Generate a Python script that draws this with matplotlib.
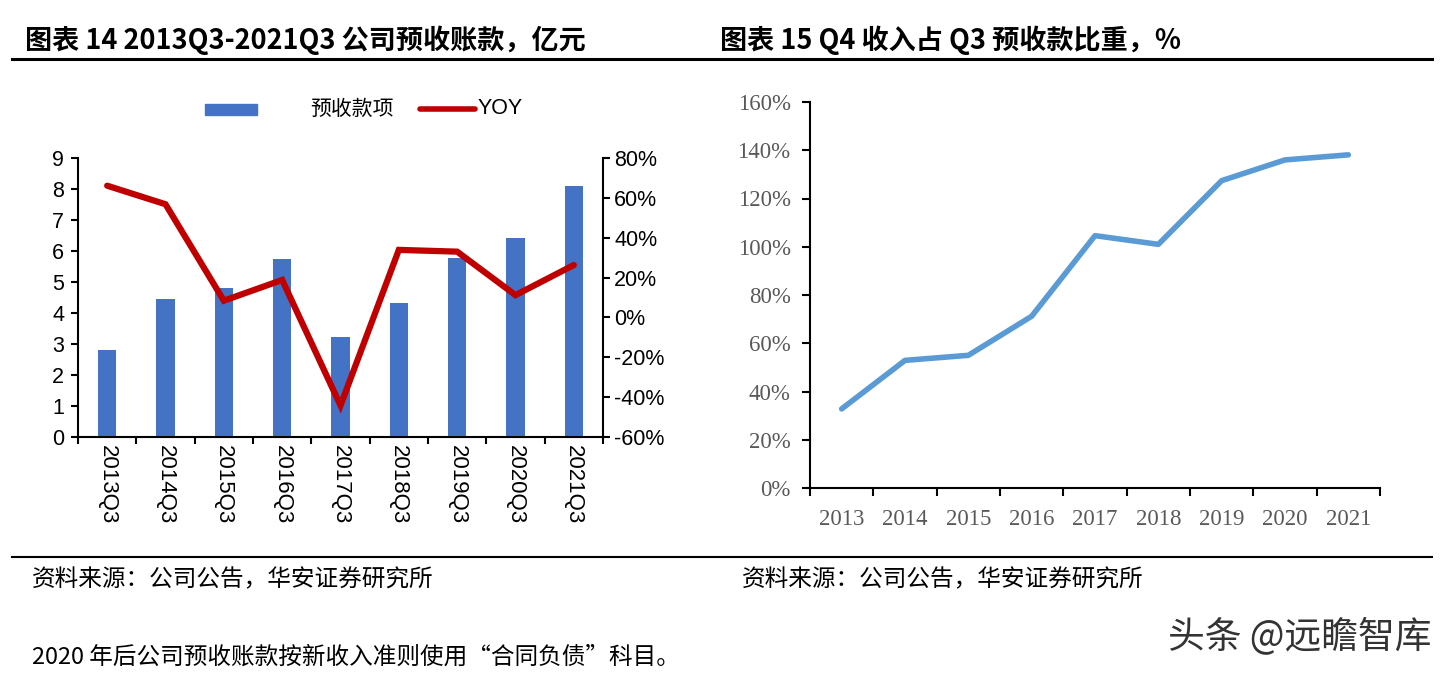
import numpy as np
import matplotlib.pyplot as plt
from matplotlib.patches import Rectangle
from matplotlib.lines import Line2D

plt.rcParams['font.family'] = ['Liberation Sans', 'Noto Sans CJK SC', 'DejaVu Sans']

# data
quarters = ['2013Q3', '2014Q3', '2015Q3', '2016Q3', '2017Q3',
            '2018Q3', '2019Q3', '2020Q3', '2021Q3']
advance = [2.82, 4.44, 4.82, 5.74, 3.21, 4.31, 5.77, 6.41, 8.11]   # 亿元
yoy = [66.1, 56.8, 8.4, 18.8, -44.2, 33.9, 33.0, 11.2, 26.3]       # %

years = ['2013', '2014', '2015', '2016', '2017', '2018', '2019', '2020', '2021']
q4_share = [32.8, 52.9, 55.0, 71.2, 104.6, 101.0, 127.4, 136.0, 138.1]  # %

W, H = 1452, 677
fig = plt.figure(figsize=(W / 100, H / 100), dpi=100)
cjk = ['Noto Sans CJK SC', 'DejaVu Sans']

# ---- left chart: bars + YOY line
ax1 = fig.add_axes([78 / W, 1 - 437 / H, (603 - 78) / W, (437 - 158) / H])
x = np.arange(len(quarters))
ax1.bar(x, advance, width=0.31, color='#4472C4', zorder=2)
ax1.set_xlim(-0.5, len(quarters) - 0.5)
ax1.set_ylim(0, 9)
ax1.set_yticks(range(0, 10))
ax1.set_xticks(np.arange(-0.5, len(quarters)))
ax1.set_xticklabels([])
ax1.set_xticks(x, minor=True)
ax1.set_xticklabels(quarters, minor=True, rotation=270, fontsize=16)
ax1.tick_params(axis='x', which='major', length=5, width=1.5, direction='out')
ax1.tick_params(axis='x', which='minor', length=0, pad=6)
ax1.tick_params(axis='y', length=5, width=1.5, labelsize=15.5, pad=5)
for s in ['top', 'right']:
    ax1.spines[s].set_visible(False)
for s in ['left', 'bottom']:
    ax1.spines[s].set_linewidth(1.5)

ax2 = ax1.twinx()
ax2.plot(x, yoy, color='#C00000', lw=4.5, solid_joinstyle='miter', solid_capstyle='round')
ax2.set_ylim(-60, 80)
ax2.set_yticks(range(-60, 81, 20))
ax2.set_yticklabels([f'{v}%' for v in range(-60, 81, 20)])
ax2.tick_params(axis='y', length=5, width=1.5, labelsize=15.5, pad=3)
for s in ['top', 'left', 'bottom']:
    ax2.spines[s].set_visible(False)
ax2.spines['right'].set_linewidth(1.5)

# legend
fig.add_artist(Rectangle((205 / W, 1 - 115 / H), 52 / W, 11 / H,
                         transform=fig.transFigure, color='#4472C4'))
fig.text(310 / W, 1 - 109 / H, '预收款项', fontsize=15, va='center', family=cjk)
fig.add_artist(Line2D([420 / W, 475 / W], [1 - 109 / H, 1 - 109 / H],
                      transform=fig.transFigure, color='#C00000', lw=4,
                      solid_capstyle='round'))
fig.text(478 / W, 1 - 109 / H, 'YOY', fontsize=15.5, va='center')

# ---- right chart: Q4 share line
ax3 = fig.add_axes([810 / W, 1 - 488 / H, (1380 - 810) / W, (488 - 102) / H])
xs = np.arange(len(years))
ax3.plot(xs, q4_share, color='#5B9BD5', lw=4, solid_capstyle='round')
ax3.set_xlim(-0.5, len(years) - 0.5)
ax3.set_ylim(0, 160)
ax3.set_yticks(range(0, 161, 20))
ax3.set_yticklabels([f'{v}%' for v in range(0, 161, 20)],
                    family='Liberation Serif', color='#595959', fontsize=16.5)
ax3.set_xticks(np.arange(-0.5, len(years)))
ax3.set_xticklabels([])
ax3.set_xticks(xs, minor=True)
ax3.set_xticklabels(years, minor=True, family='Liberation Serif',
                    color='#595959', fontsize=16.5)
ax3.tick_params(axis='x', which='major', length=6, width=1.5)
ax3.tick_params(axis='x', which='minor', length=0, pad=15)
ax3.tick_params(axis='y', length=6, width=1.5, pad=8)
for s in ['top', 'right']:
    ax3.spines[s].set_visible(False)
for s in ['left', 'bottom']:
    ax3.spines[s].set_linewidth(1.5)

# ---- titles, rules and notes
fig.text(25 / W, 1 - 40 / H, '图表 14 2013Q3-2021Q3 公司预收账款，亿元',
         fontsize=19.5, fontweight='bold', va='center', family=cjk)
fig.text(720 / W, 1 - 40 / H, '图表 15 Q4 收入占 Q3 预收款比重，%',
         fontsize=19.5, fontweight='bold', va='center', family=cjk)
for yy, lw in [(59, 2.2), (557, 1.5)]:
    fig.add_artist(Line2D([12 / W, 1432 / W], [1 - yy / H, 1 - yy / H],
                          transform=fig.transFigure, color='black', lw=lw))

fig.text(32 / W, 1 - 580 / H, '资料来源：公司公告，华安证券研究所',
         fontsize=17, va='center', family=cjk)
fig.text(742 / W, 1 - 580 / H, '资料来源：公司公告，华安证券研究所',
         fontsize=17, va='center', family=cjk)
fig.text(32 / W, 1 - 657 / H, '2020 年后公司预收账款按新收入准则使用“合同负债”科目。',
         fontsize=17, va='center', family=cjk)
fig.text(1432 / W, 1 - 637 / H, '头条 @远瞻智库', fontsize=26.5, va='center',
         ha='right', color='#333333', family=cjk)

fig.savefig('out.png', dpi=100)
